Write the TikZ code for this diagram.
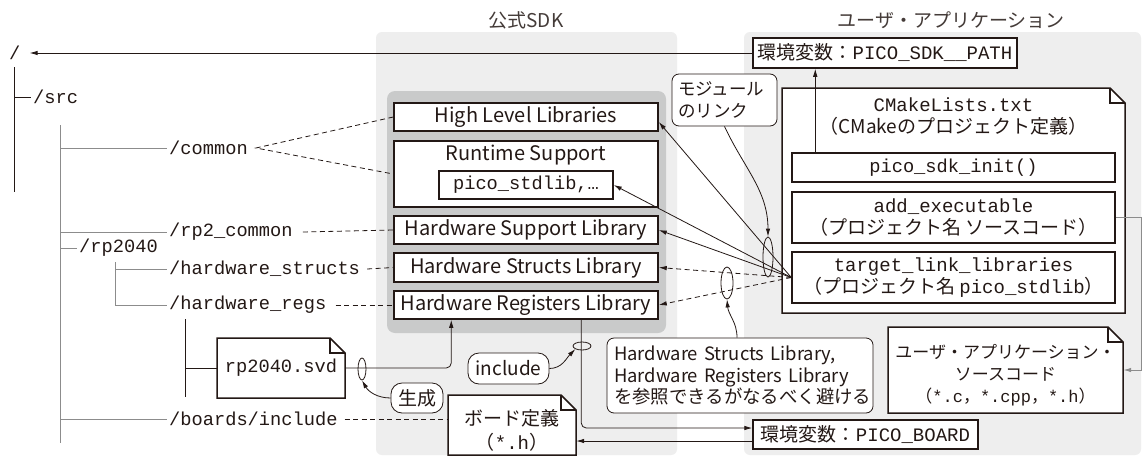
\documentclass[tikz,border=0pt]{standalone}
\usepackage{fontspec}
\setmainfont{Noto Sans CJK JP}
\setmonofont{Liberation Mono}
\usetikzlibrary{arrows.meta,calc,shapes.geometric}
\definecolor{dk}{HTML}{231815}
\definecolor{gl}{HTML}{8C8C8C}
\definecolor{pl}{HTML}{EEEEEE}
\definecolor{pd}{HTML}{C9CACA}
\newcommand\fsf{\fontsize{19}{22}\selectfont}
\newcommand\flib{\fontsize{20}{22}\selectfont}
\newcommand\fnote{\fontsize{18.4}{21.5}\selectfont}
\newcommand\ftt{\fontsize{18.7}{22}\selectfont\ttfamily}
\newcommand\docshape[4]{\draw[docl] (#1,#4) -- (#1,#2) -- (#3-15,#2) -- (#3,#2+15) -- (#3,#4) -- cycle; \draw[docf] (#3-15,#2) -- (#3-15,#2+15) -- (#3,#2+15);}
\begin{document}
\begin{tikzpicture}[x=1pt,y=-1pt,
 every node/.style={text=dk,font=\fsf},
 lib/.style={draw=dk,line width=1.5pt,fill=white,minimum width=264pt,minimum height=28pt,inner sep=0pt},
 note/.style={draw=dk,line width=0.8pt,fill=white,rounded corners=7pt,font=\fnote},
 tnode/.style={anchor=west,font=\ftt,inner sep=2pt},
 conn/.style={draw=dk,line width=0.8pt},
 dconn/.style={conn,dash pattern=on 5pt off 3.5pt},
 gline/.style={draw=gl,line width=1pt},
 dline/.style={draw=dk,line width=1pt},
 arr/.style={-{Latex[length=8pt,width=4.5pt]}},
 docl/.style={draw=dk,line width=1.5pt,fill=white,line join=miter},
 docf/.style={draw=dk,line width=1.5pt},
 mk/.style={draw=dk,line width=0.8pt,ellipse,inner sep=0pt},
 fr/.style={inner sep=0pt}
]
\fill[white] (0,0) rectangle (1143,458);
\useasboundingbox (0,0) rectangle (1143,458);
\fill[pl,rounded corners=6pt] (376,32) rectangle (677,455);
\fill[pl,rounded corners=6pt] (744,32) rectangle (1141,455);
\fill[pd,rounded corners=8pt] (387,91) rectangle (666,333);

\node[text=dk!85] (sdkt) at (526,20) {公式SDK};
\node[text=dk!85] (appt) at (951,20) {ユーザ・アプリケーション};

% SDK libraries
\node[lib,font=\flib] (hll) at (526,117) {High Level Libraries};
\node[lib,minimum height=66pt] (rs) at (526,174) {};
\node[font=\flib] (rst) at (526,155) {Runtime Support};
\node[lib,minimum width=174pt,font=\ftt] (pico) at (526,185) {pico\_stdlib,…};
\node[lib,font=\flib] (hsl) at (526,230) {Hardware Support Library};
\node[lib,minimum height=29pt,font=\flib] (hstr) at (526,267.5) {Hardware Structs Library};
\node[lib,font=\flib] (hreg) at (526,305) {Hardware Registers Library};

% user application
\node[lib,minimum height=30pt] (sdkp) at (885,53) {環境変数：\texttt{PICO\_SDK\_\_PATH}};
\docshape{782}{88}{1125}{313}
\node[align=center] (cmk) at (953.5,117) {\texttt{CMakeLists.txt}\\（CMakeのプロジェクト定義）};
\node[lib,minimum width=323pt,minimum height=29pt,font=\ftt] (init) at (953.5,167.5) {pico\_sdk\_init()};
\node[lib,minimum width=323pt,minimum height=51pt,align=center] (addx) at (953.5,217.5) {\texttt{add\_executable}\\（プロジェクト名 ソースコード）};
\node[lib,minimum width=323pt,minimum height=51pt,align=center] (tll) at (953.5,277.5) {\texttt{target\_link\_libraries}\\（プロジェクト名 \texttt{pico\_stdlib}）};
\docshape{888}{327}{1123}{413}
\node[fr,minimum width=235pt,minimum height=86pt] (srcd) at (1005.5,370) {};
\node[align=center,font=\fontsize{17}{22}\selectfont] (srct) at (1005.5,375) {ユーザ・アプリケーション・\\ソースコード\\（\texttt{*.c}，\texttt{*.cpp}，\texttt{*.h}）};
\node[lib,minimum width=225pt,minimum height=29pt] (penv) at (865.5,434.5) {環境変数：\texttt{PICO\_BOARD}};

% notes
\node[note,text width=252pt,align=left,inner xsep=7pt,inner ysep=0pt,minimum height=75pt] (avoid) at (740,375.5) {Hardware Structs Library,\\Hardware Registers Library\\を参照できるがなるべく避ける};
\node[note,text width=93pt,align=left,inner xsep=6pt,inner ysep=0pt,minimum height=52pt,font=\fontsize{17.5}{22}\selectfont] (modn) at (724.5,100) {モジュール\\のリンク};
\node[note,rounded corners=11pt,minimum width=81pt,minimum height=31pt,inner sep=0pt,font=\fsf] (inc) at (508.5,368.5) {include};
\node[note,rounded corners=11pt,minimum width=52pt,minimum height=30pt,inner sep=0pt,font=\fsf] (gen) at (417,398) {生成};

% documents on the left
\docshape{217}{338}{345}{398}
\node[fr,minimum width=128pt,minimum height=60pt,font=\ftt] (svd) at (281,368) {rp2040.svd};
\docshape{448}{395}{576}{455}
\node[fr,minimum width=128pt,minimum height=60pt] (bdoc) at (512,425) {};
\node[align=center,font=\fontsize{19}{24}\selectfont] (bdt) at (512,430) {ボード定義\\（\texttt{*.h}）};

% tree
\node[tnode] (root) at (7,53) {/};
\node[tnode] (src) at (31,97) {/src};
\node[tnode] (cmn) at (167,148) {/common};
\node[tnode] (rp2c) at (167,232) {/rp2\_common};
\node[tnode] (rp) at (77,248) {/rp2040};
\node[tnode] (hws) at (167,269) {/hardware\_structs};
\node[tnode] (hwr) at (167,305) {/hardware\_regs};
\node[tnode] (brd) at (167,419) {/boards/include};

\draw[dline] (14,67) -- (14,192);
\draw[dline] (14,97) -- (src.west);
\draw[gline] (60,125) -- (60,443);
\draw[gline] (60,148) -- (cmn.west);
\draw[gline] (60,232) -- (rp2c.west);
\draw[gline] (60,248) -- (rp.west);
\draw[gline] (115,262) -- (115,305) -- (hwr.west);
\draw[gline] (115,269) -- (hws.west);
\draw[dline] (185,319) -- (185,397);
\draw[dline] (185,368) -- (svd.west);
\draw[gline] (60,419) -- (brd.west);

% dashed links from the tree
\draw[dconn] (hll.west) -- ([xshift=6pt]cmn.east) -- (rs.west);
\draw[dconn] ([xshift=8pt]rp2c.east) -- (hsl.west);
\draw[dconn] ([xshift=5pt]hws.east) -- (hstr.west);
\draw[dconn] ([xshift=7pt]hwr.east) -- (hreg.west);
\draw[dconn] ([xshift=5pt]brd.east) -- (brd.east -| bdoc.west);

% arrows
\draw[conn,arr] (sdkp.west) -- ([xshift=7pt]root.east);
\draw[conn,arr] ([xshift=24pt]init.north west) -- ([xshift=24pt]init.north west |- sdkp.south);
\draw[conn,arr] (tll.west) -- ([yshift=-5pt]hll.east);
\draw[conn,arr] (tll.west) -- (pico.east);
\draw[conn,arr] (tll.west) -- (hsl.east);
\draw[dconn,arr] (tll.west) -- (hstr.east);
\draw[dconn,arr] (tll.west) -- (hreg.east);

\node[mk,minimum width=10pt,minimum height=40pt] (m1) at (768,257) {};
\node[mk,minimum width=12pt,minimum height=32pt] (m2) at (727,283) {};
\node[mk,minimum width=8pt,minimum height=22pt] (m3) at (362,369) {};
\node[mk,minimum width=18pt,minimum height=8pt] (m4) at (582,346) {};

\draw[conn,arr] (modn.south) to[out=-65,in=90] (m1.north);
\draw[conn,arr] ([xshift=-3pt]avoid.north) to[out=90,in=-85] (m2.south);
\draw[conn,arr] (gen.west) to[out=180,in=-60] (m3.south);
\draw[conn,arr] (inc.east) to[out=0,in=-135] (m4.south west);

\draw[conn,arr,rounded corners=5pt] (svd.east) -| ([xshift=58pt]hreg.south west);
\coordinate (pa) at ($(penv.west)+(0,-6.5)$);
\coordinate (pb) at ($(penv.west)+(0,6.5)$);
\draw[conn,arr,rounded corners=5pt] ([xshift=188pt]hreg.south west) |- (pa);
\draw[conn,arr] (pb) -- (pb -| bdoc.east);
\draw[gline,arr] (addx.east) -| ($(srcd.east)+(18,0)$) -- (srcd.east);
\end{tikzpicture}
\end{document}
